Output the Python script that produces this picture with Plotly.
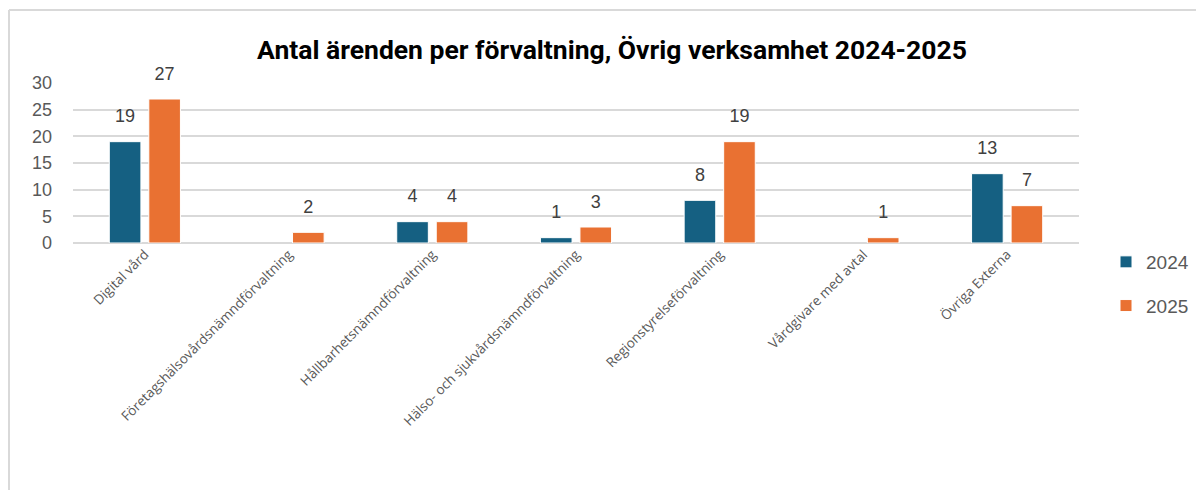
import plotly.graph_objects as go

categories = ["Digital vård", "Företagshälsovårdsnämndförvaltning", "Hållbarhetsnämndförvaltning",
              "Hälso- och sjukvårdsnämndförvaltning", "Regionstyrelseförvaltning",
              "Vårdgivare med avtal", "Övriga Externa"]
values_2024 = [19, None, 4, 1, 8, None, 13]
values_2025 = [27, 2, 4, 3, 19, 1, 7]
series_names = ["2024", "2025"]
colors = ["#156082", "#E97132"]
y_ticks = [0, 5, 10, 15, 20, 25, 30]

OFF = 8  # page body margin
W, H = 1204 - OFF, 490 - OFF
PL, PR, PT, PB = 73, 1079, 83, 243
ML, MT = PL - OFF, PT - OFF
MR, MB = (1204 - PR), (490 - PB)
pw = W - ML - MR
ph = H - MT - MB

fig = go.Figure()
for name, vals, col in zip(series_names, [values_2024, values_2025], colors):
    fig.add_trace(go.Bar(
        x=categories, y=vals, name=name, legendgroup=name, offsetgroup=name,
        marker=dict(color=col, line=dict(color="white", width=1)),
    ))
for name, vals in zip(series_names, [values_2024, values_2025]):
    fig.add_trace(go.Scatter(
        x=categories, y=vals, mode="markers+text", offsetgroup=name, showlegend=False,
        marker=dict(size=22, opacity=0), hoverinfo="skip",
        text=[("" if v is None else str(v)) for v in vals],
        textposition="top center", cliponaxis=False,
        textfont=dict(family="Liberation Sans, Arial", size=18, color="#404040"),
    ))

fig.update_layout(
    width=W, height=H,
    margin=dict(l=ML, r=MR, t=MT, b=MB, autoexpand=False),
    paper_bgcolor="white", plot_bgcolor="white",
    barmode="group", bargap=0.45, bargroupgap=0.2,
    scattermode="group", scattergap=0.45,
    title=dict(text="<b>Antal ärenden per förvaltning, Övrig verksamhet 2024-2025</b>",
               x=(612 - OFF) / W, xref="container", xanchor="center",
               y=1 - (50 - OFF) / H, yref="container", yanchor="middle",
               font=dict(family="Roboto, Liberation Sans", size=26.5, color="black")),
    xaxis=dict(tickangle=-45, showgrid=False, showline=False, ticks="", automargin=False,
               tickfont=dict(family="Open Sans, Noto Sans", size=13.5, color="#595959")),
    yaxis=dict(range=[0, 30], tickvals=y_ticks, showgrid=True, gridcolor="#D9D9D9", gridwidth=1.5,
               zeroline=True, zerolinecolor="#D9D9D9", zerolinewidth=1.5, automargin=False,
               ticklabelstandoff=20,
               tickfont=dict(family="Liberation Sans, Arial", size=18, color="#595959")),
    legend=dict(x=(1106 - OFF) / W, xref="container", xanchor="left",
                y=1 - (284 - OFF) / H, yref="container", yanchor="middle",
                traceorder="grouped", tracegroupgap=16,
                font=dict(family="Liberation Sans, Arial", size=19, color="#595959")),
    showlegend=True,
)

bx = (9 - PL) / pw
by = 1 + (PT - 10) / ph
fig.add_shape(type="line", xref="paper", yref="paper", x0=bx, y0=by, x1=(1210 - PL) / pw, y1=by,
              line=dict(color="#D9D9D9", width=2))
fig.add_shape(type="line", xref="paper", yref="paper", x0=bx, y0=by, x1=bx, y1=-(500 - PB) / ph,
              line=dict(color="#D9D9D9", width=2))

fig.write_html("out.html")
